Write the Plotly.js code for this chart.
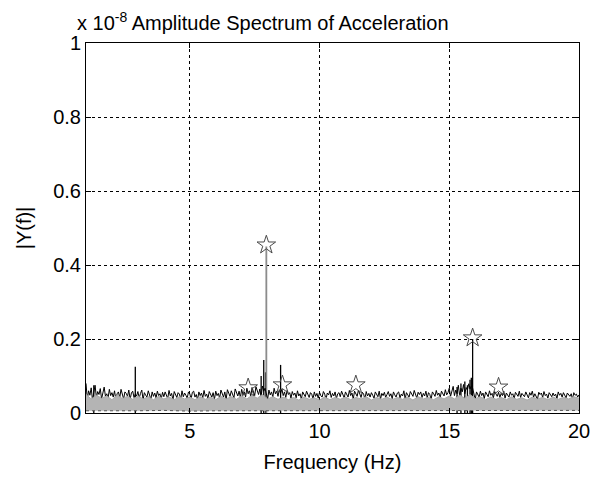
<!DOCTYPE html>
<html>
<head>
<meta charset="utf-8">
<script src="https://cdn.plot.ly/plotly-3.0.1.min.js"></script>
<style>html,body{margin:0;padding:0;background:#fff;}#chart{width:600px;height:479px;}</style>
</head>
<body>
<div id="chart"></div>
<script>
// Amplitudes in units of 1e-8
const freqBlack = [
1,1.05,1.1,1.15,1.2,1.25,1.3,1.35,1.4,1.45,1.5,1.55,1.6,1.65,1.7,1.75,1.8,1.85,1.9,1.95,
2,2.05,2.1,2.15,2.2,2.25,2.3,2.35,2.4,2.45,2.5,2.55,2.6,2.65,2.7,2.75,2.8,2.85,2.9,2.95,
3,3.05,3.1,3.15,3.2,3.25,3.3,3.35,3.4,3.45,3.5,3.55,3.6,3.65,3.7,3.75,3.8,3.85,3.9,3.95,
4,4.05,4.1,4.15,4.2,4.25,4.3,4.35,4.4,4.45,4.5,4.55,4.6,4.65,4.7,4.75,4.8,4.85,4.9,4.95,
5,5.05,5.1,5.15,5.2,5.25,5.3,5.35,5.4,5.45,5.5,5.55,5.6,5.65,5.7,5.75,5.8,5.85,5.9,5.95,
6,6.05,6.1,6.15,6.2,6.25,6.3,6.35,6.4,6.45,6.5,6.55,6.6,6.65,6.7,6.75,6.8,6.85,6.9,6.95,
7,7.05,7.1,7.15,7.2,7.25,7.3,7.35,7.4,7.45,7.5,7.55,7.6,7.65,7.7,7.75,7.8,7.85,7.9,7.95,
8,8.05,8.1,8.15,8.2,8.25,8.3,8.35,8.4,8.45,8.5,8.55,8.6,8.65,8.7,8.75,8.8,8.85,8.9,8.95,
9,9.05,9.1,9.15,9.2,9.25,9.3,9.35,9.4,9.45,9.5,9.55,9.6,9.65,9.7,9.75,9.8,9.85,9.9,9.95,
10,10.05,10.1,10.15,10.2,10.25,10.3,10.35,10.4,10.45,10.5,10.55,10.6,10.65,10.7,10.75,10.8,10.85,10.9,10.95,
11,11.05,11.1,11.15,11.2,11.25,11.3,11.35,11.4,11.45,11.5,11.55,11.6,11.65,11.7,11.75,11.8,11.85,11.9,11.95,
12,12.05,12.1,12.15,12.2,12.25,12.3,12.35,12.4,12.45,12.5,12.55,12.6,12.65,12.7,12.75,12.8,12.85,12.9,12.95,
13,13.05,13.1,13.15,13.2,13.25,13.3,13.35,13.4,13.45,13.5,13.55,13.6,13.65,13.7,13.75,13.8,13.85,13.9,13.95,
14,14.05,14.1,14.15,14.2,14.25,14.3,14.35,14.4,14.45,14.5,14.55,14.6,14.65,14.7,14.75,14.8,14.85,14.9,14.95,
15,15.05,15.1,15.15,15.2,15.25,15.3,15.35,15.4,15.45,15.5,15.55,15.6,15.65,15.7,15.75,15.8,15.85,15.9,15.95,
16,16.05,16.1,16.15,16.2,16.25,16.3,16.35,16.4,16.45,16.5,16.55,16.6,16.65,16.7,16.75,16.8,16.85,16.9,16.95,
17,17.05,17.1,17.15,17.2,17.25,17.3,17.35,17.4,17.45,17.5,17.55,17.6,17.65,17.7,17.75,17.8,17.85,17.9,17.95,
18,18.05,18.1,18.15,18.2,18.25,18.3,18.35,18.4,18.45,18.5,18.55,18.6,18.65,18.7,18.75,18.8,18.85,18.9,18.95,
19,19.05,19.1,19.15,19.2,19.25,19.3,19.35,19.4,19.45,19.5,19.55,19.6,19.65,19.7,19.75,19.8,19.85,19.9,19.95,
20];
const ampBlack = [
0.08,0.037,0.06,0.048,0.068,0.035,0.055,0.075,0.042,0.058,0.05,0.066,0.038,0.056,0.07,0.045,0.052,0.04,0.064,0.047,
0.055,0.043,0.06,0.036,0.052,0.057,0.041,0.064,0.049,0.038,0.057,0.053,0.045,0.062,0.037,0.054,0.059,0.042,0.051,0.046,
0.058,0.04,0.053,0.062,0.036,0.055,0.048,0.043,0.06,0.051,0.037,0.057,0.045,0.054,0.041,0.059,0.047,0.052,0.038,0.056,
0.044,0.057,0.05,0.039,0.061,0.046,0.053,0.035,0.058,0.049,0.042,0.055,0.051,0.037,0.06,0.044,0.054,0.048,0.04,0.057,
0.052,0.038,0.056,0.059,0.043,0.05,0.036,0.057,0.047,0.054,0.041,0.061,0.045,0.051,0.039,0.058,0.049,0.043,0.055,0.037,
0.059,0.047,0.053,0.04,0.062,0.05,0.043,0.057,0.036,0.063,0.052,0.045,0.06,0.048,0.041,0.065,0.053,0.046,0.059,0.042,
0.064,0.049,0.057,0.043,0.067,0.052,0.06,0.045,0.069,0.055,0.047,0.071,0.057,0.05,0.065,0.043,0.073,0.059,0.067,0.052,
0.037,0.062,0.049,0.057,0.043,0.067,0.052,0.059,0.045,0.063,0.053,0.065,0.047,0.057,0.042,0.061,0.05,0.055,0.04,0.058,
0.048,0.054,0.041,0.06,0.046,0.052,0.037,0.057,0.05,0.044,0.059,0.048,0.042,0.055,0.051,0.038,0.057,0.045,0.053,0.04,
0.056,0.047,0.043,0.058,0.051,0.037,0.054,0.049,0.06,0.042,0.053,0.046,0.057,0.039,0.052,0.055,0.044,0.059,0.048,0.041,
0.057,0.05,0.043,0.061,0.047,0.054,0.038,0.059,0.052,0.045,0.062,0.049,0.042,0.056,0.051,0.037,0.058,0.046,0.053,0.043,
0.055,0.048,0.04,0.057,0.051,0.044,0.059,0.037,0.053,0.047,0.056,0.042,0.05,0.058,0.045,0.052,0.039,0.057,0.049,0.043,
0.054,0.057,0.041,0.051,0.046,0.06,0.038,0.055,0.049,0.043,0.058,0.052,0.045,0.061,0.047,0.04,0.056,0.05,0.057,0.042,
0.053,0.046,0.059,0.041,0.055,0.05,0.037,0.057,0.052,0.045,0.061,0.048,0.054,0.042,0.059,0.051,0.046,0.063,0.049,0.055,
0.067,0.045,0.059,0.072,0.047,0.062,0.052,0.075,0.047,0.067,0.057,0.077,0.052,0.069,0.062,0.079,0.065,0.073,0.067,0.047,
0.037,0.057,0.05,0.043,0.059,0.047,0.054,0.039,0.057,0.051,0.044,0.06,0.048,0.053,0.041,0.058,0.049,0.045,0.056,0.042,
0.053,0.047,0.059,0.04,0.054,0.05,0.043,0.057,0.048,0.052,0.038,0.056,0.051,0.045,0.059,0.042,0.053,0.049,0.044,0.057,
0.05,0.041,0.055,0.048,0.059,0.043,0.052,0.046,0.037,0.056,0.05,0.054,0.042,0.058,0.047,0.051,0.04,0.055,0.049,0.044,
0.054,0.046,0.051,0.039,0.057,0.048,0.053,0.043,0.055,0.047,0.041,0.054,0.05,0.045,0.052,0.037,0.055,0.048,0.051,0.043,
0.049];

const freqGray = [1.0,1.2,1.4,1.6,1.8,2.0,2.2,2.4,2.6,2.8,
3.0,3.2,3.4,3.6,3.8,4.0,4.2,4.4,4.6,4.8,
5.0,5.2,5.4,5.6,5.8,6.0,6.2,6.4,6.6,6.8,
7.0,7.2,7.4,7.6,7.8,8.0,8.2,8.4,8.6,8.8,
9.0,9.2,9.4,9.6,9.8,10.0,10.2,10.4,10.6,10.8,
11.0,11.2,11.4,11.6,11.8,12.0,12.2,12.4,12.6,12.8,
13.0,13.2,13.4,13.6,13.8,14.0,14.2,14.4,14.6,14.8,
15.0,15.2,15.4,15.6,15.8,16.0,16.2,16.4,16.6,16.8,
17.0,17.2,17.4,17.6,17.8,18.0,18.2,18.4,18.6,18.8,
19.0,19.2,19.4,19.6,19.8,20.0];
const ampGray = [0.05,0.038,0.048,0.04,0.046,0.036,0.048,0.039,0.045,0.037,
0.046,0.038,0.044,0.036,0.045,0.038,0.043,0.036,0.044,0.038,
0.043,0.036,0.044,0.037,0.043,0.036,0.045,0.038,0.044,0.037,
0.046,0.038,0.048,0.04,0.05,0.038,0.044,0.037,0.043,0.036,
0.042,0.035,0.043,0.037,0.041,0.035,0.043,0.036,0.042,0.037,
0.043,0.036,0.042,0.038,0.044,0.035,0.042,0.037,0.043,0.036,
0.042,0.037,0.043,0.035,0.044,0.038,0.042,0.036,0.044,0.038,
0.046,0.038,0.048,0.04,0.05,0.039,0.044,0.036,0.043,0.037,
0.042,0.036,0.044,0.037,0.041,0.035,0.043,0.038,0.042,0.036,
0.043,0.037,0.042,0.038,0.044,0.04];

const freqFloor = [1,2,3,4,5,6,7,8,9,10,11,12,13,14,15,16,17,18,19,20];
const ampFloor = [0.006,0.005,0.006,0.007,0.005,0.006,0.006,0.005,0.007,0.006,
0.005,0.006,0.006,0.005,0.006,0.007,0.005,0.006,0.006,0.007];

const spikeFreq = [1.3, 2.9, 7.75, 7.85, 7.92, 8.5, 15.3, 15.45, 15.6, 15.7, 15.8, 15.85, 15.9];
const spikeAmp  = [0.075, 0.125, 0.1, 0.143, 0.11, 0.13, 0.07, 0.08, 0.085, 0.075, 0.09, 0.095, 0.2];

const grayPeakFreq = [7.95];
const grayPeakAmp = [0.45];

const starFreq = [7.25, 7.95, 8.57, 11.4, 15.9, 16.9];
const starAmp  = [0.068, 0.454, 0.076, 0.076, 0.203, 0.07];

const xTicks = [5, 10, 15, 20];
const yTicks = [0, 0.2, 0.4, 0.6, 0.8, 1];
const yTickText = ['0', '0.2', '0.4', '0.6', '0.8', '1'];

const FONT = 'Liberation Sans, Arial, sans-serif';
const FS = 20;

const traces = [
  {type:'bar', x: spikeFreq, y: spikeAmp, width: 0.05, marker:{color:'#000', line:{width:0}}, hoverinfo:'skip'},
  {type:'bar', x: grayPeakFreq, y: grayPeakAmp, width: 0.07, marker:{color:'#8c8c8c', line:{width:0}}, hoverinfo:'skip'},
  {type:'scatter', mode:'lines', x: freqBlack, y: ampBlack, line:{color:'#000', width:1}},
  {type:'scatter', mode:'lines', x: freqFloor, y: ampFloor, line:{color:'#555', width:1, dash:'dot'}},
  {type:'scatter', mode:'lines', x: freqGray, y: ampGray, fill:'tonexty', fillcolor:'#b4b4b4', line:{color:'#a8a8a8', width:1}},
  {type:'scatter', mode:'markers', x: starFreq, y: starAmp,
    marker:{symbol:'star-open', size:14, color:'#4a4a4a', line:{width:1, color:'#4a4a4a'}}}
];

const layout = {
  width: 600, height: 479,
  margin: {l: 86, r: 21, t: 43, b: 66, pad: 0},
  paper_bgcolor: '#fff', plot_bgcolor: '#fff',
  showlegend: false,
  barmode: 'overlay',
  font: {family: FONT, size: FS, color: '#000'},
  xaxis: {
    range: [1, 20], tickvals: xTicks, ticks: 'inside', ticklen: 5, tickcolor: '#000',
    showline: true, linecolor: '#000', linewidth: 1, mirror: 'ticks',
    showgrid: true, gridcolor: '#000', griddash: '3px,3px', gridwidth: 1, zeroline: false,
    tickfont: {family: FONT, size: FS, color: '#000'},
    title: {text: 'Frequency (Hz)', font: {family: FONT, size: FS, color: '#000'}, standoff: 13}
  },
  yaxis: {
    range: [0, 1], tickvals: yTicks, ticktext: yTickText, ticks: 'inside', ticklen: 5, tickcolor: '#000',
    showline: true, linecolor: '#000', linewidth: 1, mirror: 'ticks',
    showgrid: true, gridcolor: '#000', griddash: '3px,3px', gridwidth: 1, zeroline: false,
    tickfont: {family: FONT, size: FS, color: '#000'},
    title: {text: '|Y(f)|', font: {family: FONT, size: FS, color: '#000'}, standoff: 16}
  },
  annotations: [
    {xref:'paper', yref:'paper', x: -0.022, y: 1.018, xanchor:'left', yanchor:'bottom', showarrow:false,
     text: 'x 10<sup>-8</sup> Amplitude Spectrum of Acceleration', font:{family: FONT, size: FS, color:'#000'}}
  ]
};

Plotly.newPlot('chart', traces, layout, {displayModeBar: false, staticPlot: true});
</script>
</body>
</html>
